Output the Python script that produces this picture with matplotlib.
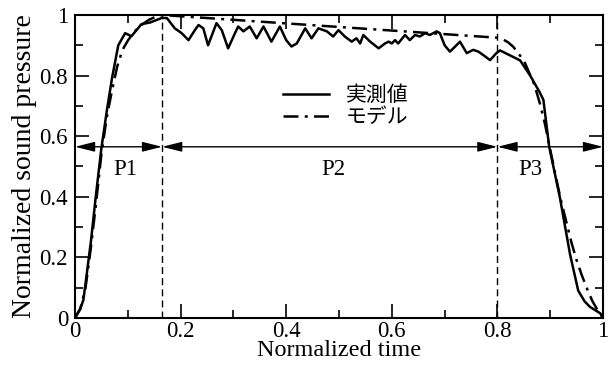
import matplotlib
matplotlib.use("Agg")
import matplotlib.pyplot as plt
from matplotlib.ticker import MultipleLocator, FuncFormatter

# measured (実測値)
meas_x = [0.0, 0.01, 0.016, 0.03, 0.04, 0.05, 0.06, 0.07, 0.082, 0.095, 0.107, 0.126, 0.142, 0.164, 0.174,
          0.189, 0.202, 0.215, 0.227, 0.234, 0.243, 0.252, 0.268, 0.278, 0.29, 0.303, 0.309, 0.319, 0.331,
          0.344, 0.357, 0.372, 0.388, 0.40, 0.41, 0.42, 0.436, 0.448, 0.461, 0.477, 0.489, 0.499, 0.511,
          0.524, 0.533, 0.54, 0.546, 0.559, 0.575, 0.587, 0.594, 0.60, 0.606, 0.612, 0.625, 0.634, 0.644,
          0.653, 0.663, 0.672, 0.685, 0.691, 0.70, 0.71, 0.72, 0.729, 0.742, 0.754, 0.764, 0.773, 0.786,
          0.798, 0.805, 0.82, 0.843, 0.862, 0.88, 0.887, 0.898, 0.918, 0.9375, 0.953, 0.965, 0.975, 0.995, 1.0]
meas_y = [0.0, 0.03, 0.06, 0.25, 0.41, 0.56, 0.68, 0.79, 0.90, 0.94, 0.93, 0.97, 0.975, 0.99, 0.99,
          0.956, 0.94, 0.917, 0.95, 0.967, 0.956, 0.90, 0.973, 0.95, 0.89, 0.94, 0.962, 0.946, 0.962,
          0.923, 0.962, 0.912, 0.962, 0.917, 0.896, 0.906, 0.956, 0.923, 0.956, 0.946, 0.929, 0.95, 0.929,
          0.912, 0.923, 0.906, 0.934, 0.912, 0.89, 0.906, 0.912, 0.906, 0.917, 0.906, 0.934, 0.917, 0.934,
          0.929, 0.94, 0.934, 0.946, 0.94, 0.90, 0.879, 0.896, 0.912, 0.874, 0.885, 0.879, 0.868, 0.851,
          0.874, 0.883, 0.87, 0.85, 0.80, 0.745, 0.72, 0.565, 0.40, 0.21, 0.09, 0.055, 0.037, 0.015, 0.0]

# model (モデル)
model_x = [0.0, 0.01, 0.02, 0.03, 0.04, 0.05, 0.06, 0.07, 0.08, 0.09, 0.10, 0.11, 0.12, 0.13, 0.14, 0.15,
           0.165, 0.8, 0.81, 0.82, 0.83, 0.84, 0.85, 0.86, 0.87, 0.88, 0.89, 0.90, 0.91, 0.92, 0.93,
           0.94, 0.95, 0.96, 0.97, 0.98, 0.99, 1.0]
model_y = [0.0, 0.03, 0.10, 0.23, 0.38, 0.54, 0.66, 0.75, 0.83, 0.885, 0.915, 0.94, 0.958, 0.972, 0.984, 0.992,
           1.0, 0.925, 0.92, 0.91, 0.895, 0.872, 0.85, 0.81, 0.77, 0.71, 0.64, 0.555, 0.47, 0.39, 0.32,
           0.25, 0.19, 0.14, 0.095, 0.055, 0.025, 0.0]

period_bounds = [0.0, 0.165, 0.8, 1.0]
period_labels = ["P1", "P2", "P3"]
legend_labels = ["実測値", "モデル"]

plt.rcParams['font.family'] = ['Liberation Serif', 'Noto Sans CJK JP']

fig = plt.figure(figsize=(6.11, 3.71), dpi=100)
ax = fig.add_axes([0.1227, 0.1429, 0.8643, 0.8167])

ax.plot(meas_x, meas_y, color='black', lw=1.8, label=legend_labels[0])
ax.plot(model_x, model_y, color='black', lw=1.8, linestyle=(0, (6, 2.5, 1.2, 2.5)), label=legend_labels[1])

for b in period_bounds[1:3]:
    ax.axvline(b, color='black', lw=1.0, linestyle=(0, (5, 3)))

arrow_y = 0.565
for i in range(3):
    ax.annotate('', xy=(period_bounds[i], arrow_y), xytext=(period_bounds[i + 1], arrow_y),
                arrowprops=dict(arrowstyle='<|-|>,head_length=1.2,head_width=0.3', color='black',
                                lw=1.0, shrinkA=0, shrinkB=0))
label_x = [0.095, 0.49, 0.862]
for lx, lab in zip(label_x, period_labels):
    ax.text(lx, 0.49, lab, ha='center', va='center', fontsize=16.5)

ax.set_xlim(0, 1)
ax.set_ylim(0, 1.0)
ax.xaxis.set_major_locator(MultipleLocator(0.2))
ax.xaxis.set_minor_locator(MultipleLocator(0.1))
ax.yaxis.set_major_locator(MultipleLocator(0.2))
ax.yaxis.set_minor_locator(MultipleLocator(0.1))
fmt = FuncFormatter(lambda v, p: '%g' % round(v, 2))
ax.xaxis.set_major_formatter(fmt)
ax.yaxis.set_major_formatter(fmt)
ax.tick_params(which='both', direction='in', top=True, right=True, labelsize=16.5, width=1.2)
ax.tick_params(axis='x', pad=2)
ax.tick_params(axis='y', pad=5)
ax.tick_params(which='major', length=10)
ax.tick_params(which='minor', length=6)
for s in ax.spines.values():
    s.set_linewidth(1.5)

ax.set_xlabel('Normalized time', fontsize=17.5, labelpad=-1)
ax.set_ylabel('Normalized sound pressure', fontsize=20, labelpad=2)

leg = ax.legend(loc='center left', bbox_to_anchor=(0.394, 0.70), frameon=False, handlelength=2.2,
                handletextpad=0.8, labelspacing=0.0, borderpad=0, borderaxespad=0,
                prop={'family': 'Noto Sans CJK JP', 'size': 15})

fig.savefig('out.png', dpi=100)
